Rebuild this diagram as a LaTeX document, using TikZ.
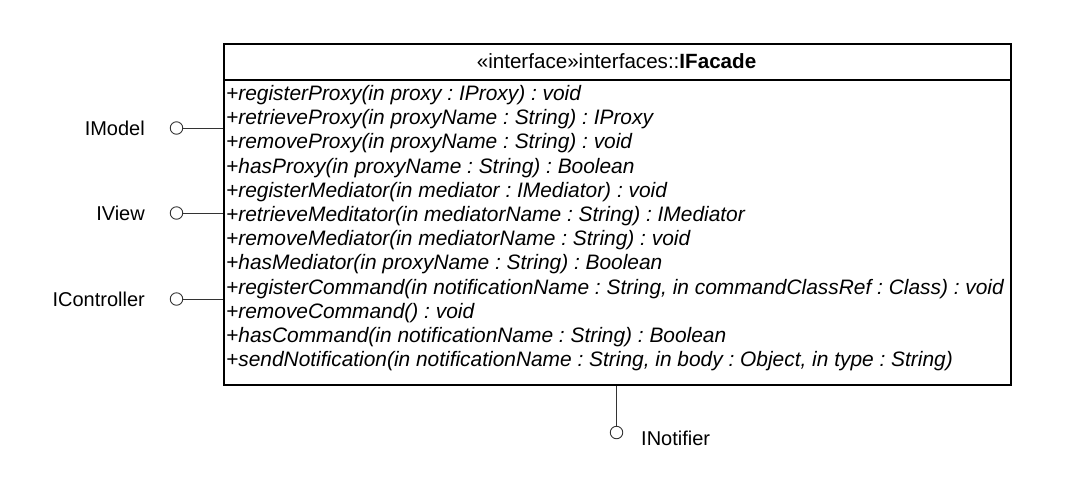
\documentclass[tikz,border=0pt]{standalone}
\usepackage{fontspec}
\setmainfont{Liberation Sans}
\begin{document}
\frenchspacing
\begin{tikzpicture}[x=1pt,y=-1pt,
  every node/.style={font=\fontsize{20}{24}\selectfont},
  member/.style={anchor=west, inner sep=0pt, font=\fontsize{20.9}{24}\selectfont\itshape},
  lollipop/.style={circle, draw=black!80, line width=0.9pt, minimum size=12.5pt, inner sep=0pt},
  iflabel/.style={anchor=east, inner sep=0pt},
  conn/.style={draw=black!80, line width=1pt},
  boxline/.style={line width=1.8pt}]
\useasboundingbox (0,0) rectangle (1083,483);
\fill[white] (0,0) rectangle (1083,483);
\node[draw, boxline, anchor=north west, minimum width=787pt, minimum height=341pt, inner sep=0pt] (box) at (223,43) {};
\draw[boxline] (223,80) -- (1010,80);
\node[inner sep=0pt, font=\fontsize{20.6}{24}\selectfont] (title) at (616.5,61) {«interface»interfaces::\textbf{IFacade}};
\node[member] (m1) at (226,95) {+registerProxy(in proxy : IProxy) : void};
\node[member] (m2) at (226,119.2) {+retrieveProxy(in proxyName : String) : IProxy};
\node[member] (m3) at (226,143.4) {+removeProxy(in proxyName : String) : void};
\node[member] (m4) at (226,167.6) {+hasProxy(in proxyName : String) : Boolean};
\node[member] (m5) at (226,191.8) {+registerMediator(in mediator : IMediator) : void};
\node[member] (m6) at (226,216) {+retrieveMeditator(in mediatorName : String) : IMediator};
\node[member] (m7) at (226,240.2) {+removeMediator(in mediatorName : String) : void};
\node[member] (m8) at (226,264.4) {+hasMediator(in proxyName : String) : Boolean};
\node[member] (m9) at (226,288.6) {+registerCommand(in notificationName : String, in commandClassRef : Class) : void};
\node[member] (m10) at (226,312.8) {+removeCommand() : void};
\node[member] (m11) at (226,337) {+hasCommand(in notificationName : String) : Boolean};
\node[member] (m12) at (226,361.2) {+sendNotification(in notificationName : String, in body : Object, in type : String)};
% lollipops
\node[lollipop] (cm) at (176.5,128) {};
\node[lollipop] (cv) at (176.5,213) {};
\node[lollipop] (cc) at (176.5,299) {};
\node[lollipop] (cn) at (616.5,432.5) {};
\node[iflabel] (lm) at (145,128) {IModel};
\node[iflabel] (lv) at (145,213) {IView};
\node[iflabel] (lc) at (145,299) {IController};
\node[anchor=west, inner sep=0pt] (ln) at (641,438) {INotifier};
\draw[conn] (cm.east) -- (cm.east -| box.west);
\draw[conn] (cv.east) -- (cv.east -| box.west);
\draw[conn] (cc.east) -- (cc.east -| box.west);
\draw[conn] (cn.north) -- (cn.north |- box.south);
\end{tikzpicture}
\end{document}
